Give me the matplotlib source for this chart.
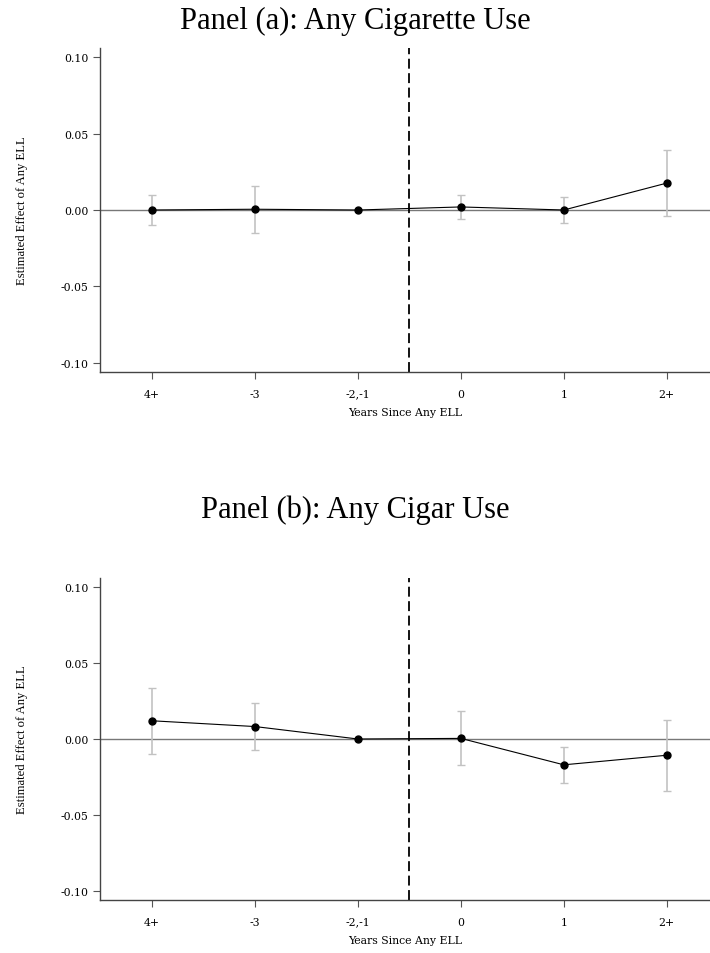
import numpy as np
import matplotlib
matplotlib.use("Agg")
import matplotlib.pyplot as plt

plt.rcParams['font.family'] = ['Liberation Serif', 'DejaVu Serif']

periods = ["4+", "-3", "-2,-1", "0", "1", "2+"]

# panel (a): any cigarette use
cig_est = [0.000, 0.0005, 0.000, 0.002, 0.000, 0.0176]
cig_lo = [-0.010, -0.015, 0.000, -0.006, -0.0085, -0.004]
cig_hi = [0.010, 0.0155, 0.000, 0.0096, 0.0087, 0.039]

# panel (b): any cigar use
cigar_est = [0.012, 0.0082, 0.000, 0.0004, -0.017, -0.0107]
cigar_lo = [-0.0098, -0.007, 0.000, -0.0172, -0.0292, -0.034]
cigar_hi = [0.0335, 0.024, 0.000, 0.0183, -0.0052, 0.0124]

panels = [
    ("Panel (a): Any Cigarette Use", cig_est, cig_lo, cig_hi),
    ("Panel (b): Any Cigar Use", cigar_est, cigar_lo, cigar_hi),
]

W, H = 710, 954
fig = plt.figure(figsize=(W / 100, H / 100), dpi=100)

# axes boxes in pixels: left, top, bottom
boxes = [(100, 49, 373), (100, 579, 901)]
title_y = [21, 510]
tick_font = dict(family=["DejaVu Serif"], size=7.8)

for (title, est, lo, hi), (x0, top, bot), ty in zip(panels, boxes, title_y):
    ax = fig.add_axes([x0 / W, 1 - bot / H, 1 - x0 / W, (bot - top) / H])
    x = np.arange(len(periods))
    est = np.array(est); lo = np.array(lo); hi = np.array(hi)
    has_ci = hi > lo
    ax.axhline(0, color="#777777", lw=1.0, zorder=1)
    ax.errorbar(x[has_ci], est[has_ci], yerr=[est[has_ci] - lo[has_ci], hi[has_ci] - est[has_ci]],
                fmt="none", ecolor="#c2c2c2", elinewidth=1.2, capsize=3.2, capthick=1.0, zorder=2)
    ax.plot(x, est, color="black", lw=0.8, marker="o", ms=5, zorder=3)
    ax.axvline(2.5, color="black", lw=1.3, ls=(0, (5.5, 2.5)), zorder=2)

    ax.set_xlim(-0.505, 5.42)
    ax.set_ylim(-0.106, 0.106)
    ax.set_xticks(x)
    ax.set_xticklabels(periods, **tick_font)
    ax.set_yticks([-0.10, -0.05, 0.0, 0.05, 0.10])
    ax.set_yticklabels(["-0.10", "-0.05", "0.00", "0.05", "0.10"], **tick_font)
    ax.tick_params(direction="out", length=5, width=0.8, color="#555555", pad=3)
    ax.tick_params(axis="x", pad=7)
    for s in ("top", "right"):
        ax.spines[s].set_visible(False)
    for s in ("left", "bottom"):
        ax.spines[s].set_color("#444444")
        ax.spines[s].set_linewidth(1.0)
    ax.set_xlabel("Years Since Any ELL", family=["DejaVu Serif"], fontsize=7.8, labelpad=6)
    ax.set_ylabel("Estimated Effect of Any ELL", fontsize=9.1, labelpad=24)
    fig.text(0.5, 1 - ty / H, title, ha="center", va="center", fontsize=22)

fig.savefig("out.png", dpi=100)
